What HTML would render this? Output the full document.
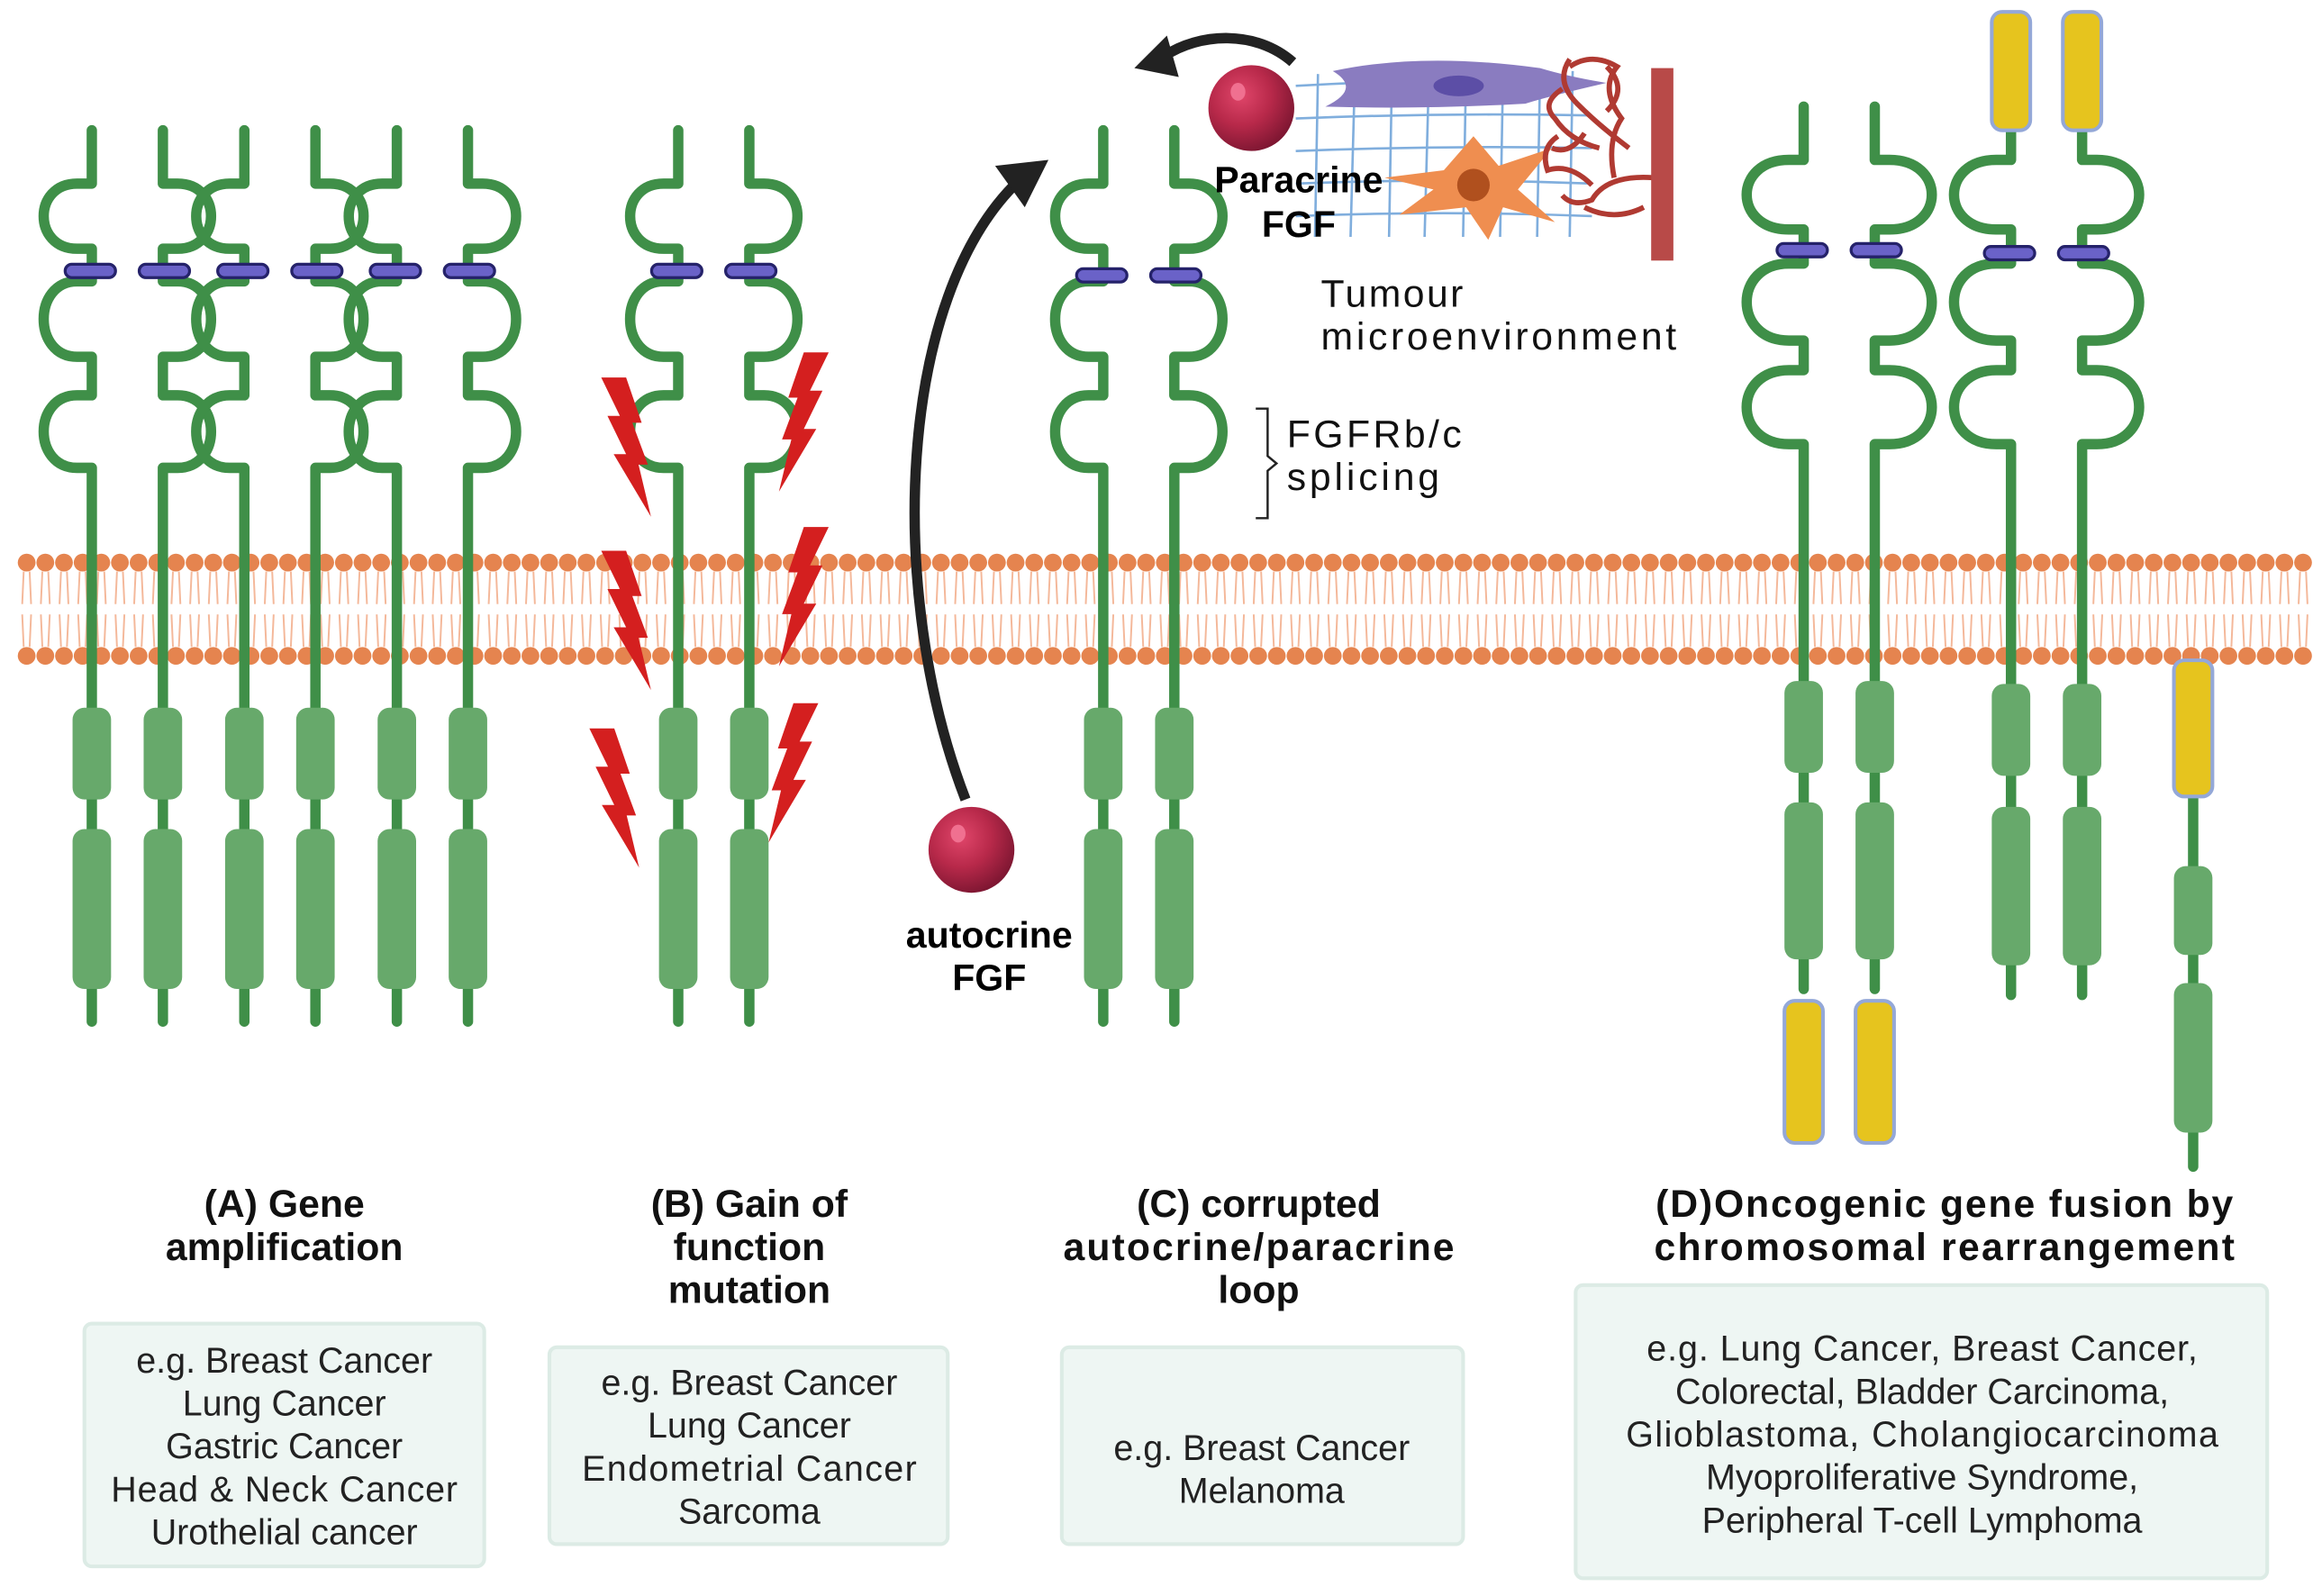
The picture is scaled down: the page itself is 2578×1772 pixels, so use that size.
<!DOCTYPE html>
<html><head><meta charset="utf-8"><style>
html,body{margin:0;padding:0;background:#fff;}
svg{display:block;}
text{font-family:"Liberation Sans",sans-serif;}
.lb{font-weight:bold;font-size:26px;fill:#111;text-anchor:middle;}
.bx{font-size:24px;fill:#222;text-anchor:middle;}
.bxr{fill:#eef6f3;stroke:#dcebe5;stroke-width:2.5;}
</style></head><body>
<svg id="s" width="2578" height="1772" viewBox="0 0 1568 1078" preserveAspectRatio="none" xmlns="http://www.w3.org/2000/svg">
<defs>
<radialGradient id="ball" cx="0.38" cy="0.35" r="0.7">
<stop offset="0" stop-color="#e0466a"/><stop offset="0.5" stop-color="#b8294a"/><stop offset="1" stop-color="#7a1530"/>
</radialGradient>
</defs>
<g id="mem"></g>
<g id="rec"></g>
<g id="extra">
<path d="M652,540 C598,400 606,200 688,122" fill="none" stroke="#222" stroke-width="7"/>
<polygon points="708,108 672,112 692,140" fill="#222"/>
<path d="M873,42 C848,20 810,22 786,38" fill="none" stroke="#222" stroke-width="7"/>
<polygon points="766,46 788,24 796,52" fill="#222"/>
<g stroke="#6aa0d8" stroke-width="1.6" fill="none" opacity="0.85">
<path d="M875,58 Q975,52 1075,56"/><path d="M875,80 Q975,76 1075,78"/><path d="M875,102 Q975,98 1075,100"/>
<path d="M875,124 Q975,120 1075,124"/><path d="M875,146 Q975,142 1075,146"/>
<path d="M890,50 L888,160"/><path d="M915,48 L912,160"/><path d="M940,48 L938,160"/><path d="M965,48 L962,160"/>
<path d="M990,48 L988,160"/><path d="M1015,48 L1013,160"/><path d="M1040,48 L1038,160"/><path d="M1062,48 L1060,160"/>
</g>
<path d="M900,48 Q960,35 1040,46 Q1060,52 1085,56 Q1050,64 1030,70 Q960,74 895,72 Q920,60 900,48Z" fill="#8a7cc0"/>
<ellipse cx="985" cy="58" rx="17" ry="7" fill="#5c4ea6"/>
<path d="M995,92 L1012,112 L1048,100 L1025,128 L1050,150 L1015,140 L1005,162 L990,140 L945,145 L968,128 L935,120 L975,115 Z" fill="#ef8e50"/>
<circle cx="995" cy="125" r="11" fill="#b0501e"/>
<g stroke="#b03a32" stroke-width="3.5" fill="none">
<path d="M1116,120 Q1085,118 1075,135 Q1062,140 1055,132"/>
<path d="M1090,120 Q1085,95 1095,80 Q1080,60 1092,45 Q1075,35 1060,45"/>
<path d="M1080,100 Q1060,95 1050,80 Q1040,70 1055,60"/>
<path d="M1085,75 Q1100,60 1085,45"/>
<path d="M1075,125 Q1060,110 1045,115 Q1040,100 1052,92"/>
<path d="M1070,90 Q1060,105 1048,100"/>
<path d="M1100,100 Q1080,85 1065,70 Q1050,55 1060,40"/>
<path d="M1110,140 Q1090,150 1070,140"/>
</g>
<rect x="1115" y="46" width="15" height="130" fill="#b84a48"/>
<circle cx="845" cy="73" r="29" fill="url(#ball)"/>
<ellipse cx="836" cy="62" rx="5" ry="6" fill="#f07090"/>
<circle cx="656" cy="574" r="29" fill="url(#ball)"/>
<ellipse cx="647" cy="563" rx="5" ry="6" fill="#f07090"/>
<text x="877" y="130" style="font-weight:bold;font-size:25px;text-anchor:middle;fill:#000">Paracrine</text>
<text x="877" y="160" style="font-weight:bold;font-size:25px;text-anchor:middle;fill:#000">FGF</text>
<text x="892" y="207" style="font-size:26px;fill:#111" textLength="96">Tumour</text>
<text x="892" y="236" style="font-size:26px;fill:#111" textLength="240">microenvironment</text>
<text x="869" y="302" style="font-size:26px;fill:#111" textLength="118">FGFRb/c</text>
<text x="869" y="331" style="font-size:26px;fill:#111" textLength="103">splicing</text>
<path d="M848,276 L856,276 L856,308 L862,313 L856,318 L856,350 L848,350" fill="none" stroke="#222" stroke-width="1.5"/>
<text x="668" y="640" style="font-weight:bold;font-size:25px;text-anchor:middle;fill:#000">autocrine</text>
<text x="668" y="669" style="font-weight:bold;font-size:25px;text-anchor:middle;fill:#000">FGF</text>
<text class="lb" x="192" y="822">(A) Gene</text>
<text class="lb" x="192" y="851">amplification</text>
<text class="lb" x="506" y="822">(B) Gain of</text>
<text class="lb" x="506" y="851">function</text>
<text class="lb" x="506" y="880">mutation</text>
<text class="lb" x="850" y="822">(C) corrupted</text>
<text class="lb" x="850" y="851" textLength="264">autocrine/paracrine</text>
<text class="lb" x="850" y="880">loop</text>
<text class="lb" x="1313" y="822" textLength="390">(D)Oncogenic gene fusion by</text>
<text class="lb" x="1313" y="851" textLength="392">chromosomal rearrangement</text>
<rect class="bxr" x="57" y="894" width="270" height="164" rx="5"/>
<text class="bx" x="192" y="927">e.g. Breast Cancer</text>
<text class="bx" x="192" y="956">Lung Cancer</text>
<text class="bx" x="192" y="985">Gastric Cancer</text>
<text class="bx" x="192" y="1014" textLength="234">Head &amp; Neck Cancer</text>
<text class="bx" x="192" y="1043">Urothelial cancer</text>
<rect class="bxr" x="371" y="910" width="269" height="133" rx="5"/>
<text class="bx" x="506" y="942">e.g. Breast Cancer</text>
<text class="bx" x="506" y="971">Lung Cancer</text>
<text class="bx" x="506" y="1000" textLength="226">Endometrial Cancer</text>
<text class="bx" x="506" y="1029">Sarcoma</text>
<rect class="bxr" x="717" y="910" width="271" height="133" rx="5"/>
<text class="bx" x="852" y="986">e.g. Breast Cancer</text>
<text class="bx" x="852" y="1015">Melanoma</text>
<rect class="bxr" x="1064" y="868" width="467" height="198" rx="5"/>
<text class="bx" x="1298" y="919" textLength="372">e.g.  Lung Cancer, Breast Cancer,</text>
<text class="bx" x="1298" y="948">Colorectal, Bladder Carcinoma,</text>
<text class="bx" x="1298" y="977" textLength="400">Glioblastoma, Cholangiocarcinoma</text>
<text class="bx" x="1298" y="1006">Myoproliferative Syndrome,</text>
<text class="bx" x="1298" y="1035">Peripheral T-cell Lymphoma</text>
</g>
<g id="bolts"></g>
</svg>
<script>
var NS="http://www.w3.org/2000/svg";
function el(p,t,a){var e=document.createElementNS(NS,t);for(var k in a)e.setAttribute(k,a[k]);p.appendChild(e);return e;}
var mem=document.getElementById('mem');
for(var x=18;x<1560;x+=12.6){
  el(mem,'path',{d:'M'+(x-2)+',386 L'+(x-3)+',408 M'+(x+2)+',386 L'+(x+3)+',408 M'+(x-3)+',415 L'+(x-2)+',437 M'+(x+3)+',415 L'+(x+2)+',437',stroke:'#f4b89a','stroke-width':1.2,fill:'none'});
  el(mem,'circle',{cx:x,cy:380,r:6,fill:'#e5844f'});
  el(mem,'circle',{cx:x,cy:443,r:6,fill:'#e5844f'});
}
var rec=document.getElementById('rec');
var bars=[];
function receptor(s,dir,top,loops,bot,b,bar){
  var d='M'+s+','+top;
  loops.forEach(function(l){
    d+=' L'+s+','+l[0]+' L'+(s+dir*10)+','+l[0]+' C'+(s+dir*b)+','+l[0]+' '+(s+dir*b)+','+l[1]+' '+(s+dir*10)+','+l[1]+' L'+s+','+l[1];
  });
  d+=' L'+s+','+bot;
  el(rec,'path',{d:d,fill:'none',stroke:'#3f8f48','stroke-width':7,'stroke-linejoin':'round','stroke-linecap':'round'});
  if(bar!=null) bars.push([s+dir*1,bar]);
}
function kin(s,y1,y2){el(rec,'rect',{x:s-13,y:y1,width:26,height:y2-y1,rx:8,fill:'#67a96b'});}
function yel(s,y1,y2){el(rec,'rect',{x:s-13,y:y1,width:26,height:y2-y1,rx:7,fill:'#e6c41e',stroke:'#94a8d8','stroke-width':2.5});}
var LA=[[124,168],[190,241],[267,316]];
[[62,-1],[110,1],[165,-1],[213,1],[268,-1],[316,1]].forEach(function(r){
  receptor(r[0],r[1],88,LA,690,40,183);kin(r[0],478,540);kin(r[0],560,668);});
[[458,-1],[506,1]].forEach(function(r){receptor(r[0],r[1],88,LA,690,40,183);kin(r[0],478,540);kin(r[0],560,668);});
[[745,-1],[793,1]].forEach(function(r){receptor(r[0],r[1],88,LA,690,40,186);kin(r[0],478,540);kin(r[0],560,668);});
var LD=[[108,155],[178,230],[250,300]];
[[1218,-1],[1266,1]].forEach(function(r){receptor(r[0],r[1],72,LD,668,48,169);kin(r[0],460,522);kin(r[0],542,648);yel(r[0],676,772);});
[[1358,-1],[1406,1]].forEach(function(r){receptor(r[0],r[1],88,LD,672,48,171);kin(r[0],462,524);kin(r[0],545,652);yel(r[0],8,88);});
el(rec,'path',{d:'M1481,530 L1481,788',stroke:'#3f8f48','stroke-width':7,'stroke-linecap':'round'});
kin(1481,585,645);kin(1481,664,765);yel(1481,446,538);
bars.forEach(function(b){el(rec,'rect',{x:b[0]-17,y:b[1]-4.5,width:34,height:9,rx:4.5,fill:'#6a62c8',stroke:'#25226a','stroke-width':2});});
var bg=document.getElementById('bolts');
var P=[[0,0],[16,0],[26,26],[20,26],[30,50],[24,50],[32,80],[8,44],[16,44],[4,22],[12,22]];
function bolt(x,y,m,sc){var pts=P.map(function(p){return (x+(m?32-p[0]:p[0])*sc)+','+(y+p[1]*sc*1.12);}).join(' ');el(bg,'polygon',{points:pts,fill:'#d41f1f'});}
bolt(406,255,false,1.05);bolt(526,238,true,1.05);bolt(406,372,false,1.05);bolt(526,356,true,1.05);bolt(398,492,false,1.05);bolt(519,475,true,1.05);
</script>
</body></html>
